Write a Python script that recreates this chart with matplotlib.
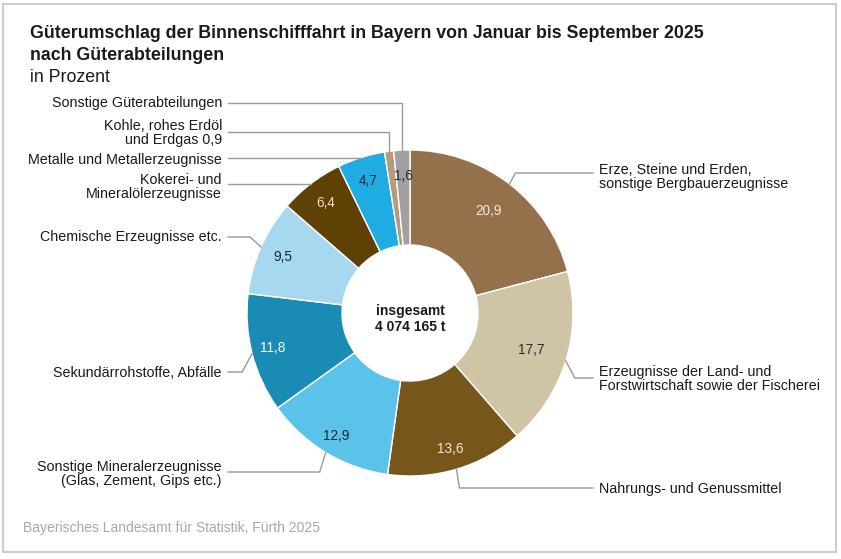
import matplotlib.pyplot as plt
import numpy as np
from matplotlib.patches import Rectangle

# === DATEN ===
kategorien = [
    "Erze, Steine und Erden,\nsonstige Bergbauerzeugnisse",
    "Erzeugnisse der Land- und\nForstwirtschaft sowie der Fischerei",
    "Nahrungs- und Genussmittel",
    "Sonstige Mineralerzeugnisse\n(Glas, Zement, Gips etc.)",
    "Sekundärrohstoffe, Abfälle",
    "Chemische Erzeugnisse etc.",
    "Kokerei- und\nMineralölerzeugnisse",
    "Metalle und Metallerzeugnisse",
    "Kohle, rohes Erdöl\nund Erdgas 0,9",
    "Sonstige Güterabteilungen",
]
anteile = [20.9, 17.7, 13.6, 12.9, 11.8, 9.5, 6.4, 4.7, 0.9, 1.6]
wert_texte = ["20,9", "17,7", "13,6", "12,9", "11,8", "9,5", "6,4", "4,7", "", "1,6"]
farben = ["#94714a", "#cfc4a6", "#77561b", "#5bc3ea", "#1a8bb5",
          "#a6d9f0", "#5f4005", "#1eace2", "#b59b77", "#a0a0a0"]
wert_farben = ["#f2e9dc", "#2b2b2b", "#f2e9d6", "#14263a", "#ffffff",
               "#14263a", "#eadfc4", "#14263a", "#2b2b2b", "#2b2b2b"]
gesamt_text = "insgesamt\n4 074 165 t"

# === LAYOUT (Pixel, y nach unten) ===
W, H = 841, 559
CX, CY, R, R_IN = 410, 313, 163, 68
wert_radius = [0.79, 0.78, 0.87, 0.88, 0.87, 0.85, 0.85, 0.85, 0.85, 0.84]
# (text_x, text_y, ha, linie_y, knick_dx)
beschriftung = [
    (599, 177, "left", 173, 6),
    (599, 379, "left", 378, 9),
    (599, 489, "left", 488, 3),
    (222, 474, "right", 472, -6),
    (222, 373, "right", 372, -10),
    (222, 237, "right", 237, -11),
    (222, 187, "right", None, 0),
    (222, 160, "right", None, 0),
    (222, 133, "right", 132, 0),
    (222, 103, "right", 103, 0),
]

plt.rcParams["font.family"] = ["Liberation Sans", "DejaVu Sans"]

fig = plt.figure(figsize=(W / 100, H / 100), dpi=100)
ax = fig.add_axes([0, 0, 1, 1])


def Y(y):
    return H - y


ax.pie(anteile, colors=farben, startangle=90, counterclock=False,
       radius=R, center=(CX, Y(CY)),
       wedgeprops=dict(width=R - R_IN, edgecolor="white", linewidth=1))
ax.set_xlim(0, W)
ax.set_ylim(0, H)
ax.set_aspect("auto")
ax.axis("off")

# Mittelwinkel der Segmente (im Uhrzeigersinn ab 12 Uhr)
kum = np.cumsum([0] + anteile[:-1])
mitte = np.radians((kum + np.array(anteile) / 2) * 3.6)

for i, w in enumerate(wert_texte):
    if not w:
        continue
    r = wert_radius[i] * R
    x = CX + r * np.sin(mitte[i])
    y = CY - r * np.cos(mitte[i])
    ax.text(x, Y(y), w, ha="center", va="center", fontsize=9.8, color=wert_farben[i])

for i, lab in enumerate(kategorien):
    tx, ty, ha, ly, dx = beschriftung[i]
    axp = CX + R * np.sin(mitte[i])
    ayp = CY - R * np.cos(mitte[i])
    if ly is None:
        ly = ayp
    ende = tx - 6 if ha == "left" else tx + 6
    xs = [axp, axp + dx, ende]
    ys = [ayp, ly, ly]
    ax.plot(xs, [Y(v) for v in ys], color="#9a9a9a", lw=1)
    ax.text(tx, Y(ty), lab, ha=ha, va="center", fontsize=10.25, color="#1a1a1a",
            linespacing=1.0)

ax.text(CX, Y(319), gesamt_text, ha="center", va="center", fontsize=10,
        fontweight="bold", color="#1a1a1a", linespacing=1.1)

# Titel
ax.text(30, Y(33), "Güterumschlag der Binnenschifffahrt in Bayern von Januar bis September 2025",
        ha="left", va="center", fontsize=12.8, fontweight="bold", color="#1a1a1a")
ax.text(30, Y(56), "nach Güterabteilungen", ha="left", va="center", fontsize=12.8,
        fontweight="bold", color="#1a1a1a")
ax.text(30, Y(77), "in Prozent", ha="left", va="center", fontsize=12.8, color="#1a1a1a")

ax.text(23, Y(528), "Bayerisches Landesamt für Statistik, Fürth 2025", ha="left",
        va="center", fontsize=10, color="#a8a8a8")

ax.add_patch(Rectangle((3, Y(552)), 833, 548, fill=False, edgecolor="#cccccc", lw=1.5))

fig.savefig("out.png", dpi=100)
